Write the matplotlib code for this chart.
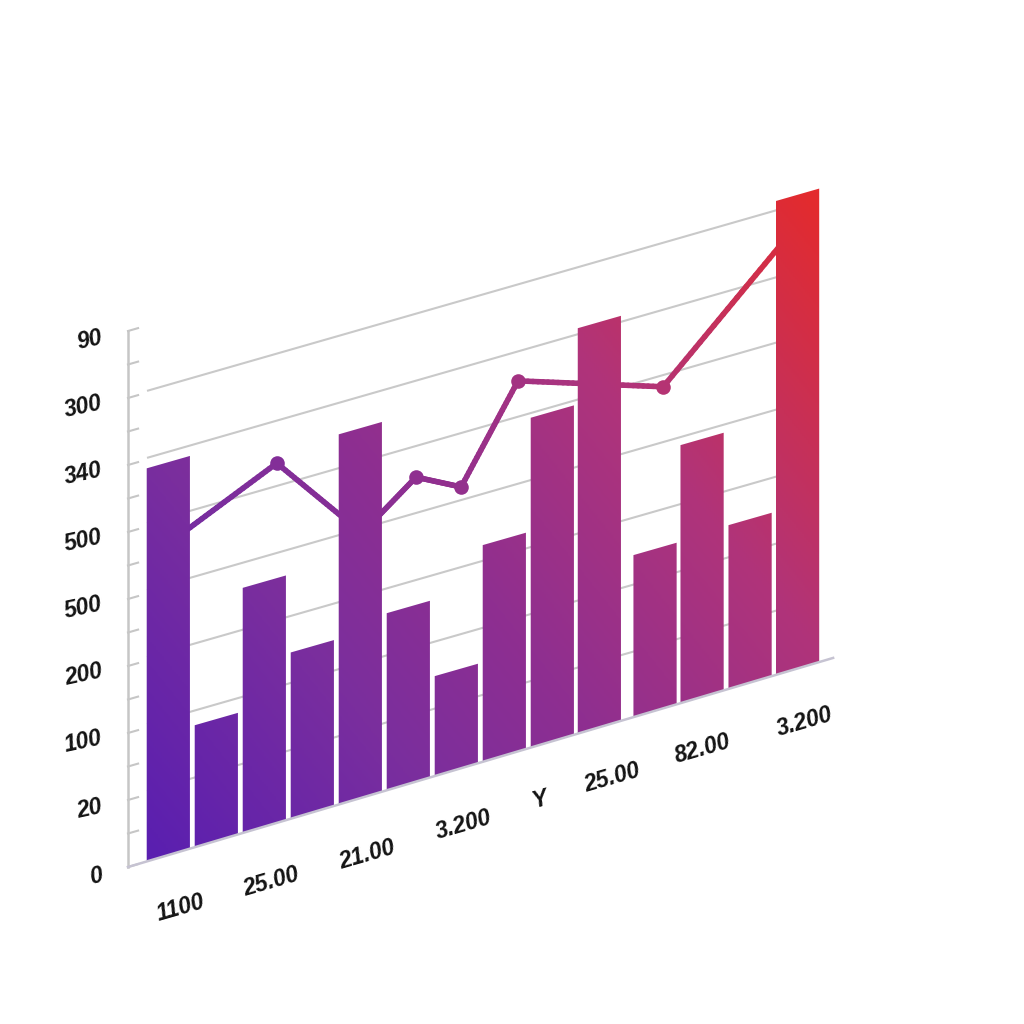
import numpy as np
import matplotlib
matplotlib.use('Agg')
import matplotlib.pyplot as plt
from matplotlib.collections import LineCollection
from matplotlib.colors import LinearSegmentedColormap
from matplotlib.path import Path
from matplotlib.transforms import Affine2D

# values (y in tick steps, x in bar slots)
bar_x = [0.84, 1.84, 2.84, 3.84, 4.84, 5.84, 6.84, 7.84, 8.84, 9.82, 10.98, 11.96, 12.96, 13.95]
bar_top = [11.74, 3.66, 7.35, 5.01, 11.11, 5.36, 3.07, 6.57, 9.96, 12.23, 4.98, 7.86, 5.06, 14.33]

line_x = [0.83, 3.10, 4.875, 6.0, 6.94, 8.125, 11.15, 13.94]
line_y = [9.30, 10.78, 7.96, 9.17, 8.49, 11.17, 9.75, 13.43]

y_labels = ['0', '20', '100', '200', '500', '500', '340', '300', '90']
y_label_pos = [0, 2, 4, 6, 8, 10, 12, 14, 16]
x_labels = ['1100', '25.00', '21.00', '3.200', 'Y', '25.00', '82.00', '3.200']
x_label_x = [1.10, 2.98, 4.98, 7.0, 8.58, 10.08, 11.96, 14.1]
x_label_y = [-1.68, -1.67, -1.69, -1.62, -1.53, -1.49, -1.39, -1.47]
grid_y = [2.1, 4.1, 6.1, 8.1, 10.1, 12.05, 14.05]

# picture geometry
PX_X = 48.0
PX_Y = 33.5
X0, Y0 = 128.0, 867.0
SLOPE = 0.287
BASE_RISE = 0.2  # the floor is a little steeper than the grid
FONT = dict(family='Liberation Sans', weight='bold', style='italic', color='#141414', fontsize=16.5)

# colour runs across the whole picture, lower left to upper right
cmap = LinearSegmentedColormap.from_list('ramp', [
    (0.0, '#5a1fb0'), (0.27, '#7a2e9e'), (0.46, '#8f2f90'), (0.70, '#b0347a'), (1.0, '#e32b2e')])


def ramp(px, py):
    return np.clip((px + 0.8 * (1024 - py) - 285) / (1473 - 285), 0, 1)


fig = plt.figure(figsize=(10.24, 10.24), dpi=100)
ax = fig.add_axes([0, 0, 1, 1])
ax.axis('off')

shear = Affine2D.from_values(1, SLOPE * PX_X / PX_Y, 0, 1, 0, 0) + ax.transData

# grid and axis
for g in grid_y:
    ax.plot([0.417, 13.95], [g, g], color='#c9c9c9', lw=1.5, zorder=1, transform=shear)
ax.plot([0, 0], [0, 16], color='#c6c6c6', lw=1.8, zorder=1, transform=shear)
for k in range(0, 17):
    ax.plot([0, 0.21], [k, k], color='#c6c6c6', lw=1.5, zorder=1, transform=shear)

# line, coloured by position
segs = []
seg_cols = []
for i in range(len(line_x) - 1):
    xs = np.linspace(line_x[i], line_x[i + 1], 30)
    ys = np.linspace(line_y[i], line_y[i + 1], 30)
    pts = np.column_stack([xs, ys])
    segs += [pts[j:j + 2] for j in range(len(pts) - 1)]
    mid_x = X0 + (xs[:-1] + xs[1:]) / 2 * PX_X
    mid_y = Y0 - (ys[:-1] + ys[1:]) / 2 * PX_Y - SLOPE * (mid_x - X0)
    # the line runs a bit redder than the bars behind it
    seg_cols += list(cmap(ramp(mid_x, mid_y + 30)))
lc = LineCollection(segs, colors=seg_cols, linewidths=4.0, capstyle='round', zorder=2, transform=shear)
ax.add_collection(lc)
for x, y in zip(line_x, line_y):
    px = X0 + x * PX_X
    py = Y0 - y * PX_Y - SLOPE * (px - X0)
    ax.plot([x], [y], 'o', ms=10.5, mew=0, color=cmap(ramp(px, py + 30)), zorder=2, transform=shear)

# bars: shapes from ax.bar, filled by one gradient image clipped to them
bar_x = np.array(bar_x)
bar_top = np.array(bar_top)
bottoms = BASE_RISE * bar_x / 14.69
bars = ax.bar(bar_x, bar_top - bottoms, width=0.9, bottom=bottoms, color='none', linewidth=0, zorder=3)
paths = []
for b in bars:
    b.set_transform(shear)
    paths.append(b.get_path().transformed(b.get_patch_transform()))
gx, gy = np.meshgrid(np.arange(0, 1024, 2) + 1.0, np.arange(0, 1024, 2) + 1.0)
im = ax.imshow(ramp(gx, gy), cmap=cmap, vmin=0, vmax=1, aspect='auto', origin='upper',
               extent=(-X0 / PX_X, (1024 - X0) / PX_X, (Y0 - 1024) / PX_Y, Y0 / PX_Y), zorder=3)
im.set_clip_path(Path.make_compound_path(*paths), shear)

# floor line
ax.plot([0, 14.69], [0, BASE_RISE], color='#c6c3d2', lw=1.8, zorder=4, transform=shear)

# labels
for lab, k in zip(y_labels, y_label_pos):
    ax.annotate(lab, xy=(0, k), xycoords=shear, xytext=(-17, -6.5), textcoords='offset points',
                ha='right', va='center', rotation=12, **FONT)
for lab, x, y in zip(x_labels, x_label_x, x_label_y):
    ax.annotate(lab, xy=(x, y), xycoords=shear, ha='center', va='center', rotation=16, **FONT)

ax.set_xlim(-X0 / PX_X, (1024 - X0) / PX_X)
ax.set_ylim((Y0 - 1024) / PX_Y, Y0 / PX_Y)

fig.savefig('out.png', dpi=100, facecolor='white')
